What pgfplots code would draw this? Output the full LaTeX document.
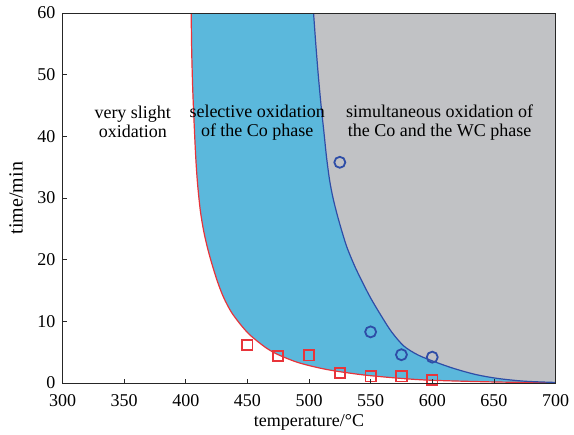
\documentclass[border={6pt 0pt 4pt 6pt}]{standalone}
\usepackage{fontspec}
\setmainfont{Liberation Serif}
\usepackage{pgfplots}
\pgfplotsset{compat=1.18}
\usepgfplotslibrary{fillbetween}

\definecolor{cofill}{HTML}{5BB8DC}
\definecolor{wcfill}{HTML}{C1C2C5}
\definecolor{redline}{HTML}{E8343A}
\definecolor{blueline}{HTML}{2E4DA7}

% boundary between slight and selective oxidation
\pgfplotstableread{
x      y
404.4  60
404.8  54
405.6  48
406.6  43
408.0  37
409.5  32.5
411.8  28
414.6  24.6
417.8  21.8
421.4  19.2
426.0  16.3
430.9  13.8
437.0  11.5
444.4  9.5
451.0  8.0
458.0  6.8
466.0  5.6
475.0  4.6
490.0  3.4
505.0  2.6
520.0  2.0
545.0  1.3
575.0  0.75
600.0  0.45
650.0  0.18
700.0  0.05
}\redcurve

% boundary between selective and simultaneous oxidation
\pgfplotstableread{
x      y
503.7  60
505.5  55
507.5  50
509.8  45
512.0  40.9
514.3  36.5
516.8  32.8
519.5  30.0
523.0  27.2
527.0  24.4
531.0  21.9
537.0  19.0
543.0  16.5
550.0  13.8
558.0  11.1
567.0  8.3
577.0  6.0
588.0  4.6
600.0  3.6
617.0  2.4
635.0  1.4
653.0  0.75
675.0  0.3
700.0  0.1
}\bluecurve

\begin{document}
\begin{tikzpicture}
\begin{axis}[
    scale only axis,
    width=493pt, height=370pt,
    xmin=300, xmax=700, ymin=0, ymax=60,
    xtick={300,350,...,700},
    ytick={0,10,...,60},
    tick pos=left,
    tick align=inside,
    major tick length=4pt,
    axis line style={black!85, line width=0.8pt},
    tick style={black!85, line width=0.6pt},
    font=\rmfamily\fontsize{18}{21}\selectfont,
    /pgf/number format/assume math mode=true,
    /pgf/number format/1000 sep={},
    every tick label/.append style={inner sep=1pt},
    xticklabel shift=10pt,
    yticklabel shift=6pt,
    xlabel={temperature/°C},
    ylabel={time/min},
    xlabel style={yshift=-4pt},
    ylabel style={yshift=10pt, font=\rmfamily\fontsize{20}{22}\selectfont},
    axis on top,
]
\addplot[name path=red, draw=none, smooth] table {\redcurve};
\addplot[name path=blue, draw=none, smooth] table {\bluecurve};
\addplot[name path=top1, draw=none] coordinates {(404.4,60) (700,60)};
\addplot[name path=top2, draw=none] coordinates {(503.7,60) (700,60)};
\addplot[cofill] fill between[of=red and top1];
\addplot[wcfill] fill between[of=blue and top2];
\addplot[redline, line width=1.2pt, smooth] table {\redcurve};
\addplot[blueline, line width=1.2pt, smooth] table {\bluecurve};
% measured points
\addplot[only marks, mark=square, mark size=5.2pt, redline, line width=1.8pt] coordinates {
 (450,6.2) (475,4.4) (500,4.5) (525,1.6) (550,1.1) (575,1.1) (600,0.5)};
\addplot[only marks, mark=o, mark size=5.5pt, blueline, line width=1.8pt] coordinates {
 (525,35.8) (550,8.3) (575,4.6) (600,4.2)};
% region labels
\node[align=center, font=\rmfamily\fontsize{18}{19}\selectfont] at (axis cs:357,42.3) {very slight\\oxidation};
\node[align=center, font=\rmfamily\fontsize{18}{19}\selectfont] at (axis cs:458,42.3) {selective oxidation\\of the Co phase};
\node[align=center, font=\rmfamily\fontsize{18}{19}\selectfont] at (axis cs:606,42.3) {simultaneous oxidation of\\the Co and the WC phase};
\end{axis}
\end{tikzpicture}
\end{document}
